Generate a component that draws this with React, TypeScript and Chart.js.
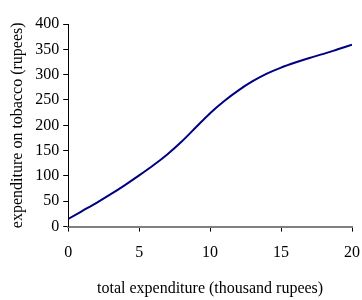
import React, { useEffect, useRef } from "react";
import { Chart, registerables } from "chart.js";

Chart.register(...registerables);

const xValues = [0, 1, 2, 3, 4, 5, 6, 7, 8, 9, 10, 11, 12, 13, 14, 15, 16, 17, 18, 19, 20];
const tobaccoSpend = [15, 31, 47, 64, 82, 101, 121, 143, 168, 196, 224, 248, 269, 287, 302, 314, 324, 333, 341, 350, 359];
const xTitle = "total expenditure (thousand rupees)";
const yTitle = "expenditure on tobacco (rupees)";

export default function App() {
  const ref = useRef<HTMLCanvasElement>(null);
  useEffect(() => {
    if (!ref.current) return;
    const font = "'Liberation Serif', 'Times New Roman', serif";
    const chart = new Chart(ref.current, {
      type: "line",
      data: {
        datasets: [
          {
            data: xValues.map((x, i) => ({ x, y: tobaccoSpend[i] })),
            borderColor: "#000080",
            borderWidth: 2,
            pointRadius: 0,
            cubicInterpolationMode: "monotone",
            fill: false,
          },
        ],
      },
      options: {
        animation: false,
        responsive: false,
        layout: { padding: { top: 24, right: 0, left: 8, bottom: 2 } },
        plugins: { legend: { display: false }, tooltip: { enabled: false } },
        scales: {
          x: {
            type: "linear",
            min: 0,
            max: 20,
            ticks: { stepSize: 5, color: "#000", font: { family: font, size: 16 }, padding: 12 },
            grid: { drawOnChartArea: false, color: "#000", tickLength: 5 },
            border: { color: "#808080", width: 2 },
            title: { display: true, text: xTitle, color: "#000", font: { family: font, size: 16 }, padding: { top: 4, bottom: 0 } },
            afterFit: (s: any) => {
              s.paddingRight = 10;
            },
          },
          y: {
            min: 0,
            max: 400,
            ticks: { stepSize: 50, color: "#000", font: { family: font, size: 16 }, padding: 4 },
            grid: { drawOnChartArea: false, color: "#000", tickLength: 5 },
            border: { color: "#000", width: 1 },
            title: { display: true, text: yTitle, color: "#000", font: { family: font, size: 16 }, padding: { top: 0, bottom: 4 } },
          },
        },
      },
    });
    return () => chart.destroy();
  }, []);
  return (
    <div style={{ position: "fixed", left: 0, top: 0, width: 362, height: 300, background: "#fff" }}>
      <canvas ref={ref} width={362} height={300} />
    </div>
  );
}
